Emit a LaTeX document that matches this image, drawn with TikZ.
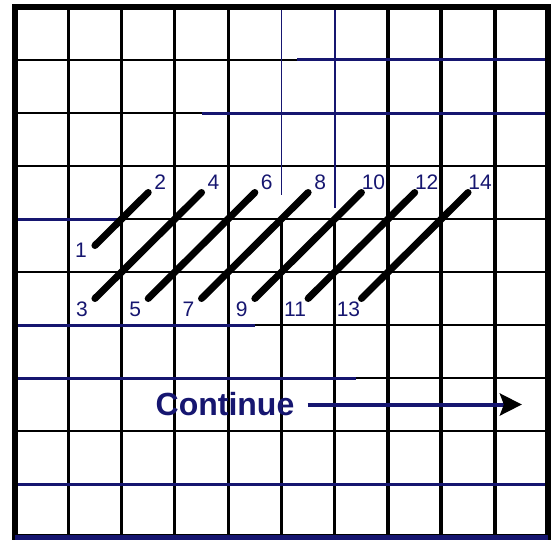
\documentclass[tikz,border=0pt]{standalone}
\usepackage{xcolor}
\usepackage{fontspec}
\setmainfont{Liberation Sans}
\usepackage{tikz}
\usetikzlibrary{arrows.meta}
\definecolor{ink}{RGB}{22,22,112}

\begin{document}
\begin{tikzpicture}[x=53.3pt,y=-53pt,
            gridline/.style={line width=2.8pt,black},
            inkline/.style={line width=3pt,ink},
            stitch/.style={line width=7pt,black,line cap=round},
            num/.style={text=ink,font=\fontsize{21}{21}\selectfont,inner sep=0pt}]
            \useasboundingbox (-0.281,-0.132) rectangle (10.094,10.075);

            % grid
            \foreach \i in {1,...,9} \draw[gridline] (0,\i) -- (10,\i);
            \foreach \i in {1,2,3,4} \draw[gridline] (\i,0) -- (\i,10);
            \foreach \i in {7,8,9} \draw[gridline,line width=4pt] (\i,0) -- (\i,10);
            \draw[gridline] (5,4) -- (5,10);
            \draw[gridline] (6,4) -- (6,10);

            % blue lines of the print
            \draw[inkline] (0,4) -- (2,4);
            \draw[inkline] (0,6) -- (4.5,6);
            \draw[inkline] (0,7) -- (6.4,7);
            \draw[inkline] (0,9) -- (10,9);
            \draw[inkline] (5.3,1) -- (10,1);
            \draw[inkline] (3.5,2) -- (10,2);
            \draw[inkline,line width=1.6pt] (5,0) -- (5,3.55);
            \draw[inkline,line width=1.6pt] (6,0) -- (6,3.8);

            % frame
            \draw[line width=6.5pt] (0,0) rectangle (10,10);
            \draw[ink,line width=5pt] (0,10) -- (10,10);

            % stitches
            \coordinate (s1) at (1.5,4.5);
            \coordinate (e1) at (2.5,3.5);
            \draw[stitch] (s1) -- (e1);
            \node[num] (n1) at ([xshift=-14pt,yshift=-5pt]s1) {1};
            \node[num] (n2) at ([xshift=12pt,yshift=10pt]e1) {2};
            \foreach \k [evaluate=\k as \a using int(2*\k-1),
                         evaluate=\k as \b using int(2*\k)] in {2,...,7} {
                \coordinate (s\k) at (\k-0.5,5.5);
                \coordinate (e\k) at (\k+1.5,3.5);
                \draw[stitch] (s\k) -- (e\k);
                \node[num] (n\a) at ([xshift=-13pt,yshift=-11pt]s\k) {\a};
                \node[num] (n\b) at ([xshift=12pt,yshift=10pt]e\k) {\b};
            }

            % continue
            \node[text=ink,font=\bfseries\fontsize{32}{32}\selectfont,inner sep=0pt] (cont) at (3.94,7.5) {Continue};
            \coordinate (goal) at (9.51,7.5);
            \draw[ink,line width=4pt,-{Stealth[black,length=22pt,width=22pt,inset=4pt]}] ([xshift=13pt]cont.east) -- (goal);
         \end{tikzpicture}
\end{document}
